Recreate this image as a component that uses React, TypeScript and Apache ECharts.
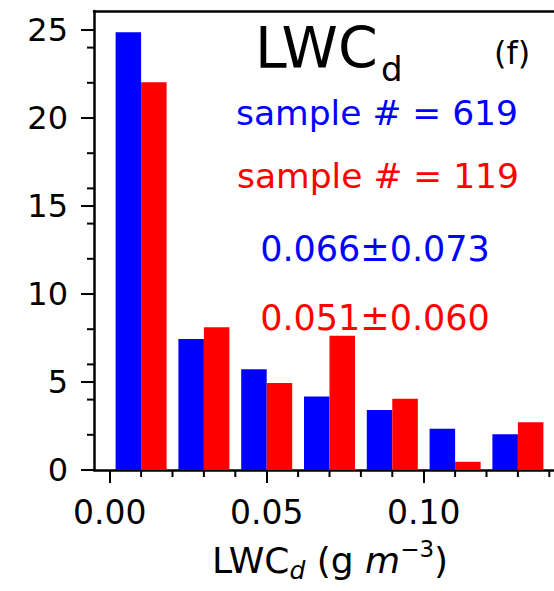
import React, { useEffect, useRef } from "react";
import * as echarts from "echarts";

// Histogram bins of droplet liquid water content (g m^-3), centred in 0.02-wide bins
const binCenters = [0.01, 0.03, 0.05, 0.07, 0.09, 0.11, 0.13];
// Frequency (%) for all samples (blue) and the sub-set (red)
const allSamplesFreq = [24.87, 7.44, 5.72, 4.17, 3.41, 2.35, 2.03];
const subsetFreq = [22.03, 8.11, 4.94, 7.63, 4.05, 0.47, 2.71];

const xMajorTicks = [0, 0.05, 0.1];
const xMinorTicks = [0.01, 0.02, 0.03, 0.04, 0.06, 0.07, 0.08, 0.09, 0.11, 0.12, 0.13, 0.14, 0.15, 0.16, 0.17];
const yMajorTicks = [0, 5, 10, 15, 20, 25];
const yMinorTicks = [2, 4, 6, 8, 12, 14, 16, 18, 22, 24];

const panelTitle = "LWC";
const panelTitleSub = "d";
const panelTag = "(f)";
const countLabels = ["sample # = 619", "sample # = 119"];
const statLabels = ["0.066±0.073", "0.051±0.060"];

const BLUE = "#0000ff";
const RED = "#ff0000";
const INK = "#000000";
const FONT = "DejaVu Sans";

// The panel runs on past the visible window; only its left part is shown.
const X_MIN = -0.005;
const X_MAX = 0.175;
const Y_MAX = 26.08;
const MINOR_LEN = 7;

const CANVAS_W = 720;
const CANVAS_H = 591;
const GRID_W = 565.2;

const lineStyle = () => ({ color: INK, width: 2.5 });
const tickStyle = () => ({ color: INK, width: 2 });

export default function App() {
  const ref = useRef<HTMLDivElement>(null);

  useEffect(() => {
    if (!ref.current) return;
    const chart = echarts.init(ref.current, undefined, { renderer: "svg" });

    // short outward minor ticks, placed through the axes' own scales
    const minorTickX = (_p: any, api: any) => {
      const pt = api.coord([api.value(0), api.value(1)]);
      return {
        type: "line",
        shape: { x1: pt[0], y1: pt[1], x2: pt[0], y2: pt[1] + MINOR_LEN },
        style: { stroke: INK, lineWidth: 2 },
      };
    };
    const minorTickY = (_p: any, api: any) => {
      const pt = api.coord([api.value(0), api.value(1)]);
      return {
        type: "line",
        shape: { x1: pt[0] - MINOR_LEN, y1: pt[1], x2: pt[0], y2: pt[1] },
        style: { stroke: INK, lineWidth: 2 },
      };
    };

    const option: any = {
      animation: false,
      backgroundColor: "#fff",
      grid: {
        left: 94,
        width: GRID_W,
        top: 11,
        bottom: 121,
        show: false,
      },
      xAxis: [
        {
          type: "value",
          min: X_MIN,
          max: X_MAX,
          position: "bottom",
          axisLine: { show: true, onZero: false, lineStyle: lineStyle() },
          axisTick: { show: true, inside: false, length: 13, lineStyle: tickStyle(), customValues: xMajorTicks },
          axisLabel: {
            show: true,
            customValues: xMajorTicks,
            formatter: (v: number) => v.toFixed(2),
            fontFamily: FONT,
            fontSize: 33,
            color: INK,
            margin: 26,
          },
          splitLine: { show: false },
        },
        {
          // top spine
          type: "value",
          min: X_MIN,
          max: X_MAX,
          position: "top",
          axisLine: { show: true, onZero: false, lineStyle: lineStyle() },
          axisTick: { show: false },
          axisLabel: { show: false },
          splitLine: { show: false },
        },
      ],
      yAxis: [
        {
          type: "value",
          min: 0,
          max: Y_MAX,
          position: "left",
          axisLine: { show: true, onZero: false, lineStyle: lineStyle() },
          axisTick: { show: true, inside: false, length: 13, lineStyle: tickStyle(), customValues: yMajorTicks },
          axisLabel: {
            show: true,
            customValues: yMajorTicks,
            fontFamily: FONT,
            fontSize: 32,
            color: INK,
            margin: 26,
          },
          splitLine: { show: false },
        },
      ],
      series: [
        {
          name: countLabels[0],
          type: "bar",
          xAxisIndex: 0,
          yAxisIndex: 0,
          barWidth: 25.5,
          barGap: "0%",
          itemStyle: { color: BLUE },
          data: binCenters.map((x, i) => [x, allSamplesFreq[i]]),
        },
        {
          name: countLabels[1],
          type: "bar",
          xAxisIndex: 0,
          yAxisIndex: 0,
          barWidth: 25.5,
          barGap: "0%",
          itemStyle: { color: RED },
          data: binCenters.map((x, i) => [x, subsetFreq[i]]),
        },
        {
          type: "custom",
          xAxisIndex: 0,
          yAxisIndex: 0,
          silent: true,
          clip: false,
          z: 5,
          renderItem: minorTickX,
          data: xMinorTicks.map((v) => [v, 0]),
        },
        {
          type: "custom",
          xAxisIndex: 0,
          yAxisIndex: 0,
          silent: true,
          clip: false,
          z: 5,
          renderItem: minorTickY,
          data: yMinorTicks.map((v) => [X_MIN, v]),
        },
      ],
      graphic: [
        {
          type: "text",
          x: 255,
          y: 48,
          style: { text: panelTitle, fontFamily: FONT, fontSize: 57, fill: INK, textAlign: "left", textVerticalAlign: "middle" },
        },
        {
          type: "text",
          x: 381,
          y: 69,
          style: { text: panelTitleSub, fontFamily: FONT, fontSize: 34, fill: INK, textAlign: "left", textVerticalAlign: "middle" },
        },
        {
          type: "text",
          x: 512,
          y: 53,
          style: { text: panelTag, fontFamily: FONT, fontSize: 32, fill: INK, textAlign: "center", textVerticalAlign: "middle" },
        },
        {
          type: "text",
          x: 377,
          y: 113,
          style: { text: countLabels[0], fontFamily: FONT, fontSize: 34.5, fill: BLUE, textAlign: "center", textVerticalAlign: "middle" },
        },
        {
          type: "text",
          x: 378,
          y: 176,
          style: { text: countLabels[1], fontFamily: FONT, fontSize: 34.5, fill: RED, textAlign: "center", textVerticalAlign: "middle" },
        },
        {
          type: "text",
          x: 375,
          y: 249,
          style: { text: statLabels[0], fontFamily: FONT, fontSize: 35, fill: BLUE, textAlign: "center", textVerticalAlign: "middle" },
        },
        {
          type: "text",
          x: 375,
          y: 318,
          style: { text: statLabels[1], fontFamily: FONT, fontSize: 35, fill: RED, textAlign: "center", textVerticalAlign: "middle" },
        },
        {
          // x-axis title, centred under the visible part of the panel
          type: "text",
          x: 330,
          y: 560,
          style: {
            text: "{a|LWC}{s|d}{a| (g }{i|m}{sup|−3}{a|)}",
            textAlign: "center",
            textVerticalAlign: "middle",
            fill: INK,
            rich: {
              a: { fontFamily: FONT, fontSize: 36, fill: INK, lineHeight: 46 },
              i: { fontFamily: FONT, fontSize: 36, fontStyle: "italic", fill: INK, lineHeight: 46 },
              s: { fontFamily: FONT, fontSize: 25, fontStyle: "italic", fill: INK, lineHeight: 32, verticalAlign: "bottom" },
              sup: { fontFamily: FONT, fontSize: 23, fill: INK, lineHeight: 22, verticalAlign: "top" },
            },
          },
        },
      ],
    };

    chart.setOption(option);
    return () => chart.dispose();
  }, []);

  return (
    <div
      style={{
        position: "fixed",
        left: 0,
        top: 0,
        width: 554,
        height: 591,
        overflow: "hidden",
        background: "#fff",
      }}
    >
      <div ref={ref} style={{ width: CANVAS_W, height: CANVAS_H }} />
    </div>
  );
}
